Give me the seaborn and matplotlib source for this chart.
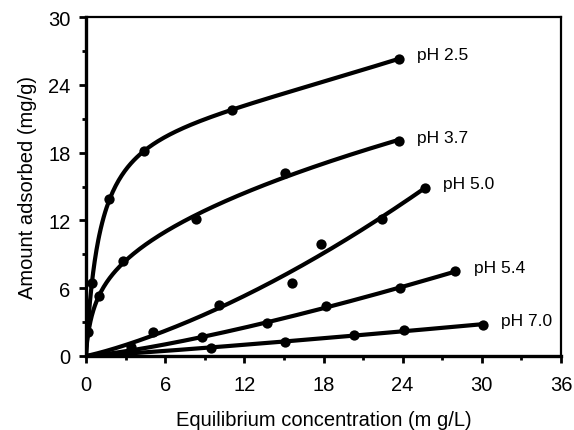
import numpy as np
import pandas as pd
import matplotlib
matplotlib.use("Agg")
import matplotlib.pyplot as plt
import seaborn as sns
from matplotlib.ticker import MultipleLocator

# ---- data ----
series_names = ["pH 2.5", "pH 3.7", "pH 5.0", "pH 5.4", "pH 7.0"]
c_ph25 = [0.15, 0.45, 1.74, 4.4, 11.1, 23.7]
q_ph25 = [2.1, 6.5, 13.9, 18.1, 21.8, 26.3]
c_ph37 = [1.0, 2.8, 8.3, 15.1, 23.7]
q_ph37 = [5.3, 8.4, 12.1, 16.2, 19.0]
c_ph50 = [3.4, 5.1, 10.1, 15.6, 17.8, 22.4, 25.7]
q_ph50 = [0.8, 2.1, 4.5, 6.5, 9.9, 12.1, 14.9]
c_ph54 = [8.8, 13.7, 18.2, 23.8, 28.0]
q_ph54 = [1.7, 2.9, 4.4, 6.0, 7.5]
c_ph70 = [9.45, 15.1, 20.3, 24.1, 30.1]
q_ph70 = [0.75, 1.2, 1.85, 2.3, 2.75]

x_ticks = [0, 6, 12, 18, 24, 30, 36]
y_ticks = [0, 6, 12, 18, 24, 30]
x_label = "Equilibrium concentration (m g/L)"
y_label = "Amount adsorbed (mg/g)"

conc = [c_ph25, c_ph37, c_ph50, c_ph54, c_ph70]
amt = [q_ph25, q_ph37, q_ph50, q_ph54, q_ph70]

rows = []
for name, cs, qs in zip(series_names, conc, amt):
    for c, q in zip(cs, qs):
        rows.append({"series": name, "C": c, "q": q})
df = pd.DataFrame(rows)


def fit_curve(c, q):
    """Least-squares fit of q = a*C/(b+C) + k*C**d (a, k >= 0), through origin."""
    c = np.asarray(c, float)
    q = np.asarray(q, float)
    best = None
    for b in np.logspace(-2, 2, 60):
        for d in np.linspace(0.4, 2.0, 49):
            A = np.column_stack([c / (b + c), c ** d])
            coef, *_ = np.linalg.lstsq(A, q, rcond=None)
            if np.any(coef < 0):
                cand = []
                for j in range(2):
                    aj = A[:, j]
                    cj = max(aj @ q / (aj @ aj), 0)
                    co = np.zeros(2)
                    co[j] = cj
                    cand.append(co)
                coef = min(cand, key=lambda co: np.sum((A @ co - q) ** 2))
            sse = np.sum((A @ coef - q) ** 2)
            if best is None or sse < best[0]:
                best = (sse, b, d, coef)
    _, b, d, coef = best
    return lambda x: coef[0] * x / (b + x) + coef[1] * x ** d


curve_rows = []
for name, cs, qs in zip(series_names, conc, amt):
    f = fit_curve(cs, qs)
    xs = np.concatenate([np.linspace(0, 1, 60), np.linspace(1, max(cs), 200)])
    for x in xs:
        curve_rows.append({"series": name, "C": x, "q": f(x)})
curves = pd.DataFrame(curve_rows)

# ---- plot ----
sns.set_theme(style="white")
plt.rcParams["font.family"] = ["Liberation Sans", "DejaVu Sans"]

fig = plt.figure(figsize=(5.74, 4.31), dpi=100)
ax = fig.add_axes([0.1498, 0.1717, 0.8276, 0.7865])

for name in series_names:
    sub = curves[curves["series"] == name]
    sns.lineplot(data=sub, x="C", y="q", ax=ax, color="black", linewidth=3.0,
                 sort=False, estimator=None, legend=False)
sns.scatterplot(data=df, x="C", y="q", ax=ax, color="black", s=55,
                edgecolor="black", linewidth=0, legend=False, zorder=5)

for name, cs, qs in zip(series_names, conc, amt):
    ax.annotate(name, xy=(cs[-1], qs[-1]), xytext=(13, 3),
                textcoords="offset points", ha="left", va="center",
                fontsize=12.5, color="black")

ax.set_xlim(0, 36)
ax.set_ylim(0, 30)
ax.set_xticks(x_ticks)
ax.set_yticks(y_ticks)
ax.xaxis.set_minor_locator(MultipleLocator(3))
ax.yaxis.set_minor_locator(MultipleLocator(3))
ax.tick_params(axis="both", which="major", direction="out", length=5, width=2,
               labelsize=14.5, color="black", labelcolor="black",
               bottom=True, left=True, top=False, right=False)
ax.tick_params(axis="x", which="major", pad=9)
ax.tick_params(axis="y", which="major", pad=6)
ax.tick_params(axis="both", which="minor", direction="out", length=3, width=2,
               color="black", bottom=True, left=True, top=False, right=False)

for side in ["left", "bottom"]:
    ax.spines[side].set_linewidth(2.4)
    ax.spines[side].set_color("black")
for side in ["top", "right"]:
    ax.spines[side].set_linewidth(1.6)
    ax.spines[side].set_color("black")

ax.set_xlabel(x_label, fontsize=14.5, labelpad=11, color="black")
ax.set_ylabel(y_label, fontsize=14.5, labelpad=8, color="black")

fig.savefig("out.png", dpi=100)
